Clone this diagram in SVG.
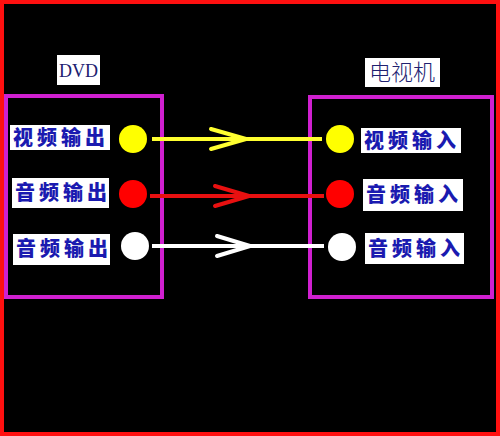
<svg xmlns="http://www.w3.org/2000/svg" width="500" height="436" viewBox="0 0 500 436">
<style>
.box{fill:none;stroke:#d020d0;stroke-width:4}
.lbl{fill:#ffffff}
.t{font-family:"Noto Sans CJK SC","Noto Sans CJK JP",sans-serif;font-weight:900;font-size:20px;letter-spacing:4px;fill:#1a1ab0}
.title{font-family:"Liberation Serif","Noto Sans CJK SC",serif;font-size:18px;fill:#202070;text-anchor:middle}
.arrow{fill:none;stroke-width:4;stroke-linecap:round;stroke-linejoin:round}
</style>
<rect x="0" y="0" width="500" height="436" fill="#000000"/>
<rect x="2" y="2" width="496" height="432" fill="none" stroke="#ff1010" stroke-width="4"/>

<g id="dvd">
  <rect class="box" x="6" y="96" width="156" height="201"/>
  <rect class="lbl" x="57" y="55" width="43" height="30"/>
  <text class="title" x="78.5" y="77">DVD</text>
</g>
<g id="tv">
  <rect class="box" x="310" y="97" width="182" height="200"/>
  <rect class="lbl" x="365" y="58" width="75" height="29"/>
  <text class="title" x="402" y="80" style="font-family:'Noto Sans CJK SC',sans-serif;font-size:22px;font-weight:300">电视机</text>
</g>

<g id="dvd-video-out">
  <rect class="lbl" x="10" y="125" width="100" height="25"/>
  <text class="t" x="13" y="145">视频输出</text>
  <circle cx="133" cy="139" r="14" fill="#ffff00"/>
</g>
<g id="dvd-audio-out-1">
  <rect class="lbl" x="12" y="178" width="97" height="30"/>
  <text class="t" x="15" y="200">音频输出</text>
  <circle cx="133" cy="194" r="14" fill="#ff0000"/>
</g>
<g id="dvd-audio-out-2">
  <rect class="lbl" x="13" y="234" width="97" height="31"/>
  <text class="t" x="16" y="256">音频输出</text>
  <circle cx="135" cy="246" r="14" fill="#ffffff"/>
</g>

<g id="tv-video-in">
  <circle cx="340" cy="139" r="14" fill="#ffff00"/>
  <rect class="lbl" x="361" y="128" width="100" height="25"/>
  <text class="t" x="364" y="148">视频输入</text>
</g>
<g id="tv-audio-in-1">
  <circle cx="340" cy="194" r="14" fill="#ff0000"/>
  <rect class="lbl" x="363" y="179" width="100" height="32"/>
  <text class="t" x="366" y="202">音频输入</text>
</g>
<g id="tv-audio-in-2">
  <circle cx="342" cy="247" r="14" fill="#ffffff"/>
  <rect class="lbl" x="365" y="233" width="99" height="31"/>
  <text class="t" x="368" y="256">音频输入</text>
</g>

<g id="connectors">
  <line x1="152" y1="139" x2="322" y2="139" stroke="#ffff30" stroke-width="4"/>
  <polyline class="arrow" stroke="#ffff30" points="211,129 246,139 211,149"/>
  <line x1="150" y1="196" x2="324" y2="196" stroke="#e81010" stroke-width="4"/>
  <polyline class="arrow" stroke="#e81010" points="215,186 249,196 215,206"/>
  <line x1="152" y1="246" x2="324" y2="246" stroke="#ffffff" stroke-width="4"/>
  <polyline class="arrow" stroke="#ffffff" points="217,236 250,246 217,256"/>
</g>
</svg>
